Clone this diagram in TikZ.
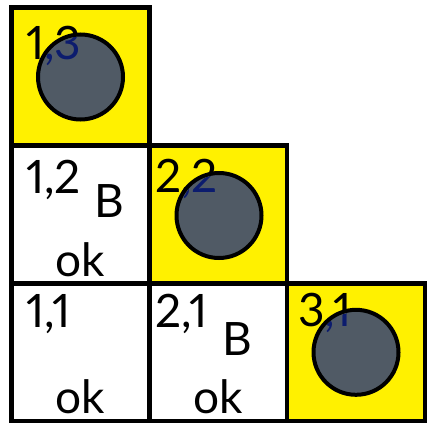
\documentclass[tikz,border=0pt]{standalone}
\usepackage{fontspec}
\setmainfont{Lato}[Numbers=Proportional]
\definecolor{wyellow}{RGB}{255,241,0}
\definecolor{wgrey}{RGB}{80,90,101}
\definecolor{wnavy}{RGB}{12,28,110}
\tikzset{
  lbl/.style={anchor=base west,inner sep=0pt,font=\fontsize{46}{46}\selectfont},
  wumpus/.style={circle,draw=black,line width=4pt,fill=wgrey,minimum size=85pt,inner sep=0pt},
  gridline/.style={line width=4.5pt,line join=miter}
}
\begin{document}
\begin{tikzpicture}[x=1pt,y=-1pt]
\useasboundingbox (0,0) rectangle (427,423);
% yellow squares
\fill[wyellow] (11.5,7.5) rectangle (149.5,145.5);
\fill[wyellow] (149.5,145.5) rectangle (287,283.5);
\fill[wyellow] (287,283.5) rectangle (425,421);
% grid
\draw[gridline] (11.5,7.5) rectangle (149.5,145.5);
\draw[gridline] (11.5,145.5) rectangle (287,283.5);
\draw[gridline] (149.5,145.5) -- (149.5,283.5);
\draw[gridline] (11.5,283.5) rectangle (425,421);
\draw[gridline] (149.5,283.5) -- (149.5,421);
\draw[gridline] (287,283.5) -- (287,421);
% labels
\node[lbl] (t13) at (26,59) {1,3};
\node[lbl] (t12) at (26,193) {1,2};
\node[lbl] (b12) at (94,217) {B};
\node[lbl] (o12) at (55,276) {ok};
\node[lbl] (t22) at (155,192) {2,2};
\node[lbl] (t11) at (26,327) {1,1};
\node[lbl] (o11) at (55,413) {ok};
\node[lbl] (t21) at (155,327) {2,1};
\node[lbl] (b21) at (222,355) {B};
\node[lbl] (o21) at (193,413) {ok};
\node[lbl] (t31) at (298,326) {3,1};
% wumpus circles
\node[wumpus] (w13) at (80.5,77) {};
\node[wumpus] (w22) at (219,215.5) {};
\node[wumpus] (w31) at (356,352.3) {};
% labels seen through the circles
\begin{scope}
\clip (w13.center) circle (40.5);
\node[lbl,text=wnavy] (t13n) at (26,59) {1,3};
\end{scope}
\begin{scope}
\clip (w22.center) circle (40.5);
\node[lbl,text=wnavy] (t22n) at (155,192) {2,2};
\end{scope}
\begin{scope}
\clip (w31.center) circle (40.5);
\node[lbl,text=wnavy] (t31n) at (298,326) {3,1};
\end{scope}
\end{tikzpicture}
\end{document}
